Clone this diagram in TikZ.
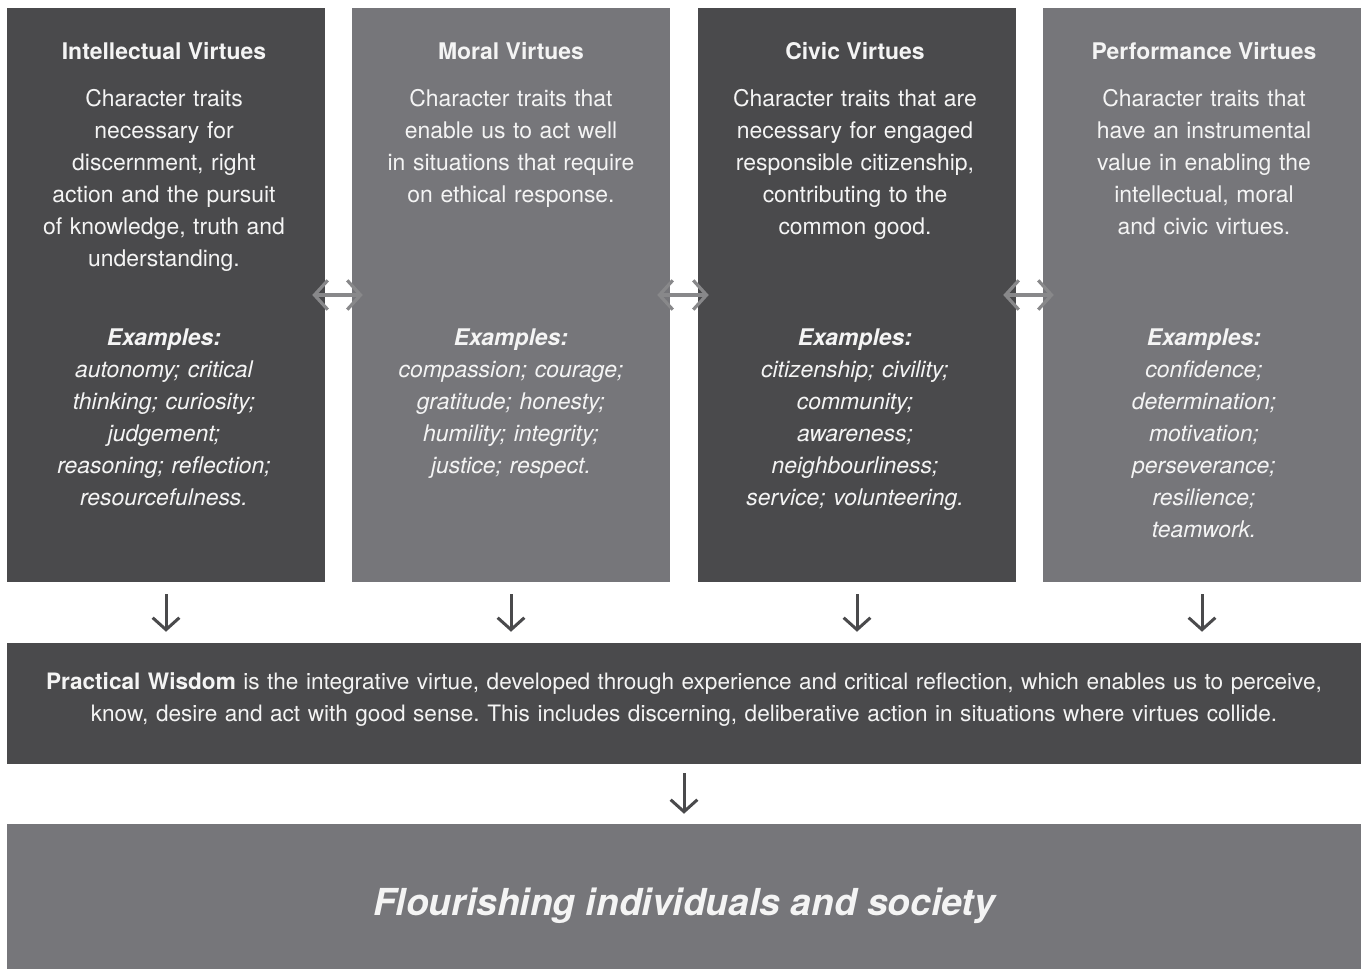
\documentclass[tikz,border=0pt]{standalone}
\usepackage{fontspec}
\setmainfont{TeX Gyre Heros}
\usetikzlibrary{arrows.meta}

\definecolor{boxdark}{HTML}{4A4A4C}
\definecolor{boxlight}{HTML}{76767A}
\definecolor{linkgray}{HTML}{88888A}
\definecolor{textwhite}{HTML}{F4F4F4}

\begin{document}
\frenchspacing
\begin{tikzpicture}[x=0.75pt, y=-0.75pt,
    box/.style={inner sep=0pt, minimum width=238.5pt, minimum height=430.5pt},
    head/.style={text=textwhite, font=\fontsize{17.2}{24}\selectfont\bfseries, anchor=base, inner sep=0pt},
    body/.style={text=textwhite, font=\fontsize{17.2}{24}\selectfont, anchor=base,
      text width=232pt, align=center, inner sep=0pt},
    examples/.style={body, font=\fontsize{17.2}{24}\selectfont\itshape},
    down/.style={draw=boxdark, line width=2.25pt, -{Straight Barb[length=9pt,width=20pt]}},
    link/.style={draw=linkgray, line width=2.4pt,
      {Straight Barb[length=10pt,width=22pt]}-{Straight Barb[length=10pt,width=22pt]}}]

    \useasboundingbox (0,0) rectangle (1365,969);

    % Columnas de virtudes
    \node[box, fill=boxdark]  (intel) at (166,295) {};
    \node[box, fill=boxlight] (moral) at (511,295) {};
    \node[box, fill=boxdark]  (civic) at (857,295) {};
    \node[box, fill=boxlight] (perf)  at (1202,295) {};

    % Sabiduria practica y florecimiento
    \node[fill=boxdark, inner sep=0pt, minimum width=1015.5pt, minimum height=90.75pt]
      (wisdom) at (684,703.5) {};
    \node[fill=boxlight, inner sep=0pt, minimum width=1015.5pt, minimum height=108.75pt]
      (flourish) at (684,896.5) {};

    % Titulos
    \node[head] (intel-t) at (164,60) {Intellectual Virtues};
    \node[head] (moral-t) at (511,60) {Moral Virtues};
    \node[head] (civic-t) at (855,60) {Civic Virtues};
    \node[head] (perf-t)  at (1204,60) {Performance Virtues};

    % Descripciones
    \node[body] (intel-d) at (164,107) {Character traits\\ necessary for\\ discernment, right\\
      action and the pursuit\\ of knowledge, truth and\\ understanding.};
    \node[body] (moral-d) at (511,107) {Character traits that\\ enable us to act well\\
      in situations that require\\ on ethical response.};
    \node[body] (civic-d) at (855,107) {Character traits that are\\ necessary for engaged\\
      responsible citizenship,\\ contributing to the\\ common good.};
    \node[body] (perf-d)  at (1204,107) {Character traits that\\ have an instrumental\\
      value in enabling the\\ intellectual, moral\\ and civic virtues.};

    % Ejemplos
    \node[examples] (intel-e) at (164,346) {\textbf{Examples:}\\ autonomy; critical\\
      thinking; curiosity;\\ judgement;\\ reasoning; reflection;\\ resourcefulness.};
    \node[examples] (moral-e) at (511,346) {\textbf{Examples:}\\ compassion; courage;\\
      gratitude; honesty;\\ humility; integrity;\\ justice; respect.};
    \node[examples] (civic-e) at (855,346) {\textbf{Examples:}\\ citizenship; civility;\\
      community;\\ awareness;\\ neighbourliness;\\ service; volunteering.};
    \node[examples] (perf-e)  at (1204,346) {\textbf{Examples:}\\ confidence;\\
      determination;\\ motivation;\\ perseverance;\\ resilience;\\ teamwork.};

    % Textos inferiores
    \node[body, text width=1005pt, font=\fontsize{16.95}{24}\selectfont] (wisdom-txt) at (684,690)
      {\textbf{Practical Wisdom} is the integrative virtue, developed through experience and
      critical reflection, which enables us to perceive,\\ know, desire and act with good
      sense. This includes discerning, deliberative action in situations where virtues collide.};
    \node[head, font=\fontsize{27.9}{34}\selectfont\bfseries\itshape] (flourish-txt) at (684,915)
      {Flourishing individuals and society};

    % Flechas dobles entre columnas
    \draw[link, shorten <=-9.75pt, shorten >=-8.25pt] (intel.east) -- (moral.west);
    \draw[link, shorten <=-9.75pt, shorten >=-8.25pt] (moral.east) -- (civic.west);
    \draw[link, shorten <=-9.75pt, shorten >=-8.25pt] (civic.east) -- (perf.west);

    % Flechas hacia abajo
    \draw[down, shorten <=9pt, shorten >=8.25pt] (intel.south) -- (intel.south |- wisdom.north);
    \draw[down, shorten <=9pt, shorten >=8.25pt] (moral.south) -- (moral.south |- wisdom.north);
    \draw[down, shorten <=9pt, shorten >=8.25pt] (civic.south) -- (civic.south |- wisdom.north);
    \draw[down, shorten <=9pt, shorten >=8.25pt] (perf.south) -- (perf.south |- wisdom.north);
    \draw[down, shorten <=6.75pt, shorten >=7.5pt] (wisdom.south) -- (flourish.north);

  \end{tikzpicture}
\end{document}
